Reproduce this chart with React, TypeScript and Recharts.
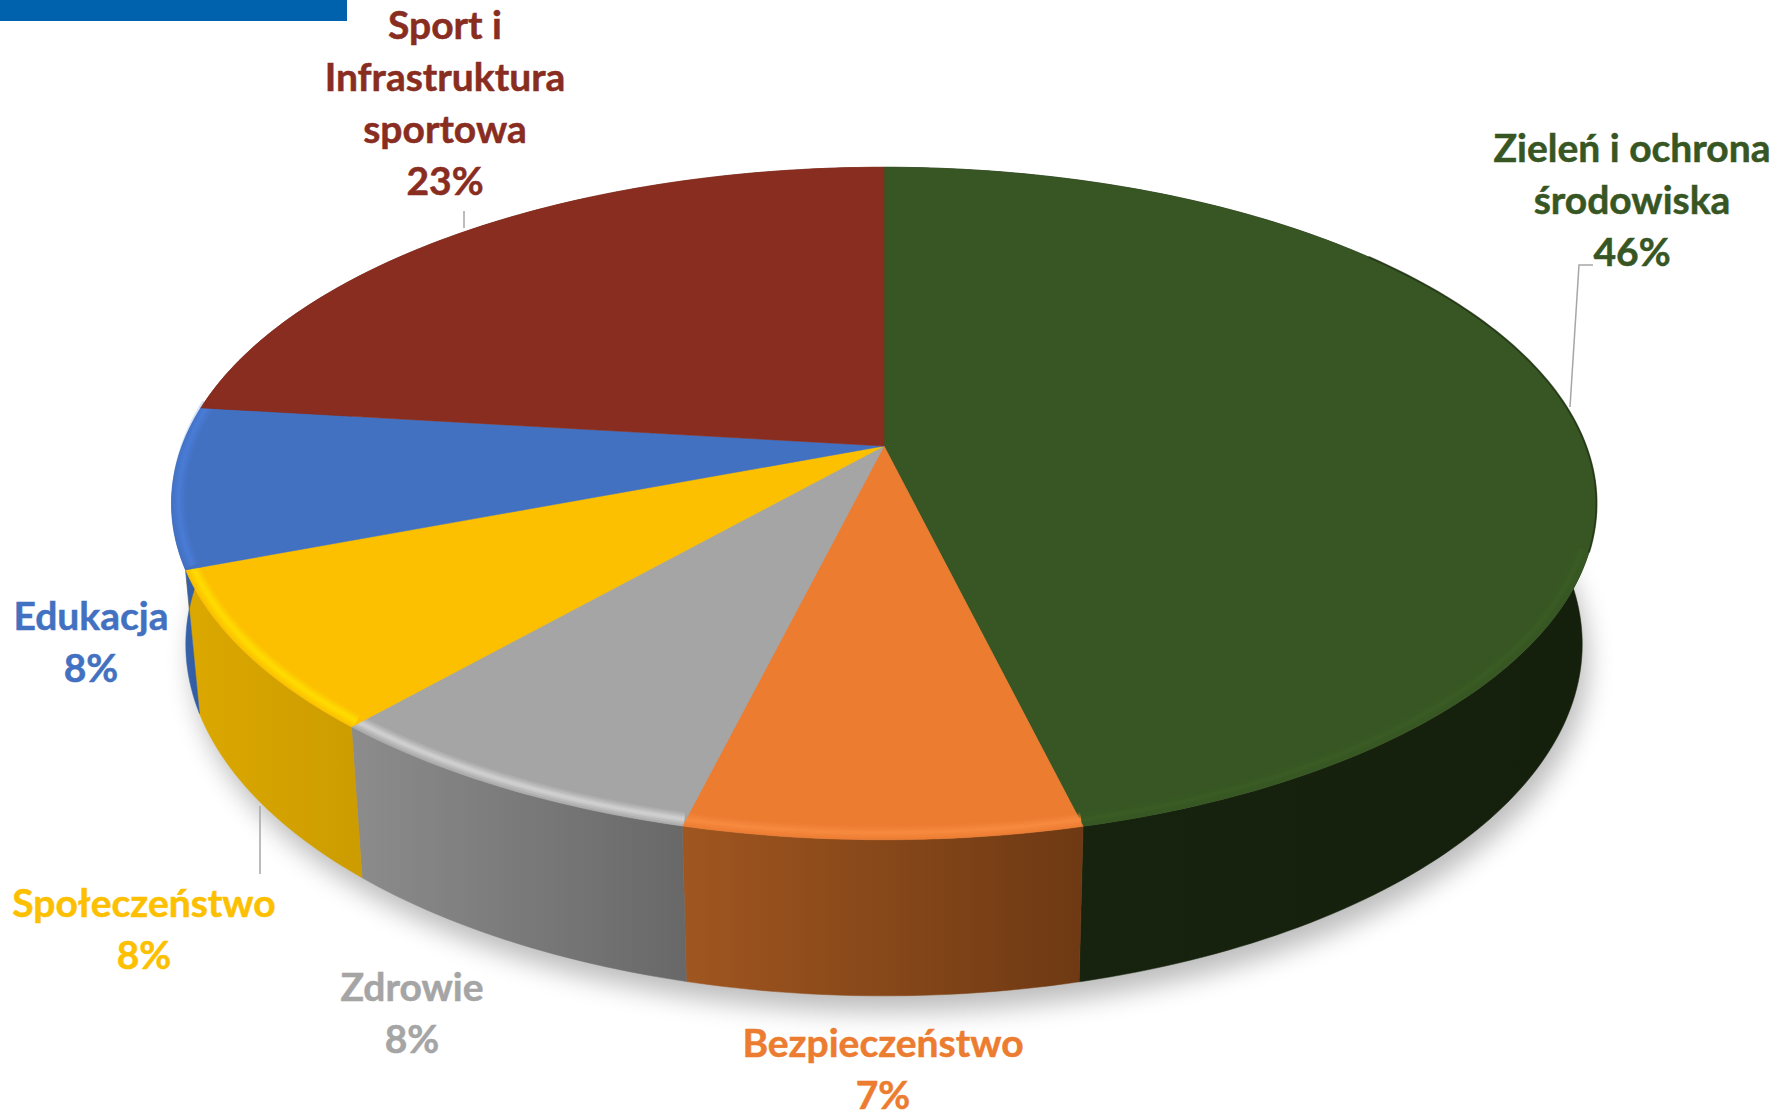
import React from "react";
import { PieChart, Pie } from "recharts";

const categories = [
  ["Zieleń i ochrona", "środowiska"],
  ["Bezpieczeństwo"],
  ["Zdrowie"],
  ["Społeczeństwo"],
  ["Edukacja"],
  ["Sport i", "Infrastruktura", "sportowa"],
];
// slice sizes as drawn in the picture, percent labels as printed on it
const shares = [46.2, 7.65, 7.65, 7.7, 7.7, 23.1];
const percentLabels = ["46%", "7%", "8%", "8%", "8%", "23%"];

const topColors = ["#375623", "#EC7C30", "#A5A5A5", "#FCC000", "#4371C1", "#882D1F"];
const rimColors = ["#3B5C25", "#F68A3E", "#D2D2D2", "#FFDC00", "#4A7CD6", "#882D1F"];
const wallLeft = ["#17240F", "#A05620", "#8C8C8C", "#DCA800", "#3A68B2", "#6B2619"];
const wallRight = ["#15200C", "#6E3913", "#686868", "#CC9C00", "#2F5597", "#6B2619"];

// text centre x and first baseline of every label
const labelAnchors = [
  { x: 1632, y: 162 },
  { x: 883, y: 1057 },
  { x: 412, y: 1001 },
  { x: 144, y: 917 },
  { x: 91, y: 630 },
  { x: 445, y: 39 },
];
const leaderLines = [
  "1570,407 1579,265 1593,265",
  null,
  null,
  "260,806 260,874",
  null,
  "464,211 464,228",
];

const chartData = shares.map((value, i) => ({ name: categories[i].join(" "), value, fill: topColors[i] }));

const CX = 884;
const CY = 446;
const RADIUS = 702;
const TILT = 0.465;
const PERSP = 0.171;

// clockwise angle from 12 o'clock -> screen point on the top disc
const project = (r: number, deg: number) => {
  const t = (deg * Math.PI) / 180;
  const u = Math.sin(t);
  const v = Math.cos(t);
  const d = 1 + PERSP * v;
  return { dx: (r * u) / d, dy: (-r * TILT * v) / d };
};
const topPoint = (cx: number, cy: number, r: number, deg: number, lift = 0) => {
  const p = project(r, deg);
  return [cx + p.dx, cy + p.dy - lift];
};
const bottomPoint = (cx: number, cy: number, r: number, deg: number) => {
  const p = project(r, deg);
  return [cx + 0.98 * p.dx, cy + 138 + 1.046 * p.dy];
};

const arcAngles = (from: number, to: number) => {
  const out: number[] = [];
  for (let a = from; a < to; a += 1) out.push(a);
  out.push(to);
  return out;
};
const toPath = (pts: number[][]) =>
  pts.map((p, i) => `${i ? "L" : "M"}${p[0].toFixed(2)} ${p[1].toFixed(2)}`).join(" ");

const WallSlice = (props: any) => {
  const { cx, cy, outerRadius, startAngle, endAngle, index } = props;
  const angles = arcAngles(90 - startAngle, 90 - endAngle);
  const top = angles.map((a) => topPoint(cx, cy, outerRadius, a));
  const bottom = angles.map((a) => bottomPoint(cx, cy, outerRadius, a)).reverse();
  const id = `wall-${index}`;
  return (
    <g>
      <defs>
        <linearGradient id={id} x1="0" y1="0" x2="1" y2="0">
          <stop offset="0%" stopColor={wallLeft[index]} />
          <stop offset="100%" stopColor={wallRight[index]} />
        </linearGradient>
      </defs>
      <path d={toPath([...top, ...bottom]) + " Z"} fill={`url(#${id})`} stroke={`url(#${id})`} strokeWidth={0.5} />
    </g>
  );
};

const TopSlice = (props: any) => {
  const { cx, cy, outerRadius, startAngle, endAngle, index, fill } = props;
  const from = 90 - startAngle;
  const to = 90 - endAngle;
  const rim = arcAngles(from, to).map((a) => topPoint(cx, cy, outerRadius, a));
  const bevelFrom = Math.max(from, 108);
  const bevelTo = Math.min(to, 277);
  const bevel =
    bevelTo > bevelFrom
      ? toPath(arcAngles(bevelFrom, bevelTo).map((a) => topPoint(cx, cy, outerRadius * 0.99, a, 3)))
      : null;
  // the green slice has a thin dark edge where it turns away on the right
  const darkFrom = Math.max(from, 50);
  const darkTo = Math.min(to, 108);
  const darkEdge =
    darkTo > darkFrom
      ? toPath(arcAngles(darkFrom, darkTo).map((a) => topPoint(cx, cy, outerRadius, a)))
      : null;
  return (
    <g>
      <path d={toPath([[cx, cy], ...rim]) + " Z"} fill={fill} stroke={fill} strokeWidth={0.5} />
      {bevel && (
        <g fill="none">
          <path d={bevel} stroke={rimColors[index]} strokeWidth={14} opacity={0.22} />
          <path d={bevel} stroke={rimColors[index]} strokeWidth={10} opacity={0.35} />
          <path d={bevel} stroke={rimColors[index]} strokeWidth={6} opacity={0.5} />
          <path d={bevel} stroke={rimColors[index]} strokeWidth={3} opacity={0.7} />
        </g>
      )}
      {darkEdge && <path d={darkEdge} fill="none" stroke="#1C2E10" strokeWidth={2} opacity={0.7} />}
    </g>
  );
};

const ShadowDisc = (props: any) => {
  const { cx, cy, outerRadius } = props;
  const pts = arcAngles(0, 360).map((a) => {
    const p = bottomPoint(cx, cy, outerRadius, a);
    return [p[0] + 6, p[1] + 16];
  });
  return <path d={toPath(pts) + " Z"} fill="#000" opacity={0.26} filter="url(#disc-shadow)" />;
};

const renderLabel = (props: any) => {
  const { index } = props;
  const anchor = labelAnchors[index];
  const lines = [...categories[index], percentLabels[index]];
  const leader = leaderLines[index];
  return (
    <g key={index}>
      {leader && <polyline points={leader} fill="none" stroke="#A6A6A6" strokeWidth={1.5} />}
      <text
        x={anchor.x}
        y={anchor.y}
        textAnchor="middle"
        fill={topColors[index]}
        stroke={topColors[index]}
        strokeWidth={0.5}
        fontFamily="Lato"
        fontWeight={700}
        fontSize={39}
      >
        {lines.map((line, i) => (
          <tspan key={line} x={anchor.x} y={anchor.y + i * 52}>
            {line}
          </tspan>
        ))}
      </text>
    </g>
  );
};

const pieProps = {
  dataKey: "value",
  cx: CX,
  cy: CY,
  innerRadius: 0,
  outerRadius: RADIUS,
  startAngle: 90,
  endAngle: -270,
  stroke: "none",
  isAnimationActive: false,
};

export default function App() {
  return (
    <div style={{ position: "absolute", left: 0, top: 0, width: 1780, height: 1114, overflow: "hidden", background: "#fff" }}>
      <div style={{ position: "absolute", left: 0, top: 0, width: 347, height: 21, background: "#0062AD" }} />
      <PieChart width={1780} height={1114} margin={{ top: 0, right: 0, bottom: 0, left: 0 }}>
        <defs>
          <filter id="disc-shadow" x="-10%" y="-10%" width="120%" height="120%">
            <feGaussianBlur stdDeviation="13" />
          </filter>
        </defs>
        <Pie {...pieProps} data={[{ name: "shadow", value: 100 }]} shape={ShadowDisc} />
        <Pie {...pieProps} data={chartData} shape={WallSlice} />
        <Pie {...pieProps} data={chartData} shape={TopSlice} label={renderLabel} labelLine={false} />
      </PieChart>
    </div>
  );
}
